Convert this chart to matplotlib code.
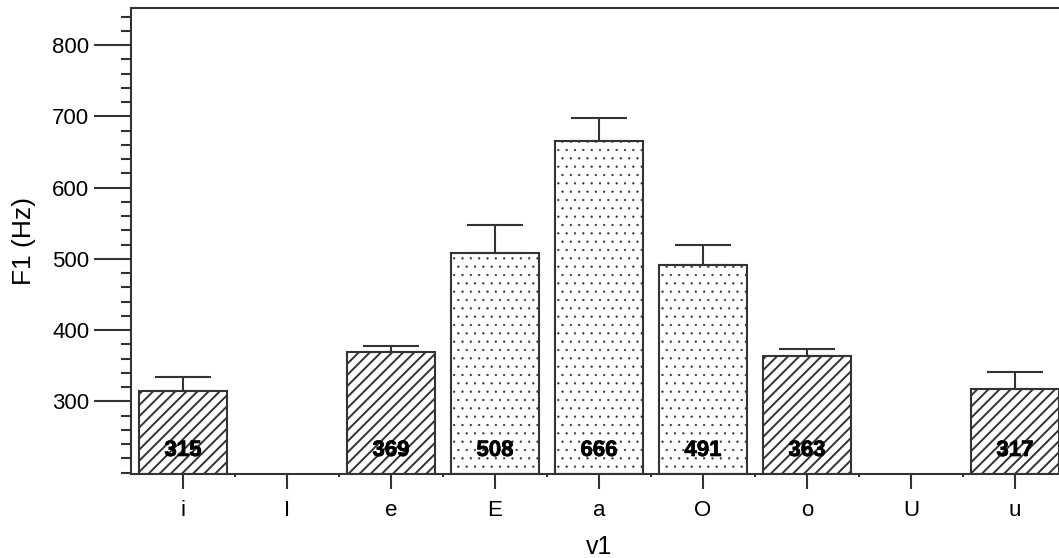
import numpy as np
import matplotlib.pyplot as plt
import matplotlib.patheffects as pe
from matplotlib.ticker import MultipleLocator

plt.rcParams['font.family'] = ['Liberation Sans', 'DejaVu Sans']
plt.rcParams['hatch.color'] = '#222222'

# Mean F1 per vowel (v1) with upper error bar ends
vowels = ['i', 'I', 'e', 'E', 'a', 'O', 'o', 'U', 'u']
f1_mean = [315, np.nan, 369, 508, 666, 491, 363, np.nan, 317]
f1_upper = [334, np.nan, 378, 548, 698, 520, 373, np.nan, 341]
patterns = ['///', '', '///', '..', '..', '..', '///', '', '///']

edge = '#333333'
fig = plt.figure(figsize=(10.59, 5.58), dpi=100)
ax = fig.add_axes([131 / 1059, 84 / 558, 936 / 1059, 466 / 558])

x = np.arange(len(vowels))
for xi, m, up, hp in zip(x, f1_mean, f1_upper, patterns):
    if np.isnan(m):
        continue
    # thin outline for the dot fill, heavier strokes for the diagonal fill
    hlw = 0.4 if hp.startswith('.') else 1.4
    with plt.rc_context({'hatch.linewidth': hlw}):
        bars = ax.bar(xi, m - 198, bottom=198, width=0.85, facecolor='white',
                      edgecolor=edge, linewidth=1.5, hatch=hp, zorder=2)
    for b in bars:
        if hasattr(b, 'set_hatch_linewidth'):
            b.set_hatch_linewidth(hlw)
    ax.errorbar(xi, m, yerr=[[0], [up - m]], fmt='none', ecolor=edge,
                elinewidth=1.5, capsize=20, capthick=1.5, zorder=3)
    ax.text(xi, 231, f'{m:.0f}', ha='center', va='center', fontsize=16,
            fontweight='bold', color='black', zorder=4,
            path_effects=[pe.withStroke(linewidth=0.5, foreground='black')])

ax.set_xlim(-0.5, 8.5)
ax.set_ylim(198, 852)
ax.set_xticks(x)
ax.set_xticklabels(vowels)
ax.set_xticks(x[:-1] + 0.5, minor=True)
ax.yaxis.set_minor_locator(MultipleLocator(20))
ax.set_yticks([300, 400, 500, 600, 700, 800])

ax.tick_params(axis='y', which='major', length=27, width=1.5, color=edge,
               labelsize=16, pad=3)
ax.tick_params(axis='y', which='minor', length=7, width=1.5, color=edge)
ax.tick_params(axis='x', which='major', length=11, width=1.5, color=edge,
               labelsize=16, pad=8)
ax.tick_params(axis='x', which='minor', length=2, width=1.5, color=edge)

for sp in ax.spines.values():
    sp.set_color(edge)
    sp.set_linewidth(1.5)

ax.set_ylabel('F1 (Hz)', fontsize=19, labelpad=12)
ax.set_xlabel('v1', fontsize=18, labelpad=10)

fig.savefig('out.png', dpi=100)
